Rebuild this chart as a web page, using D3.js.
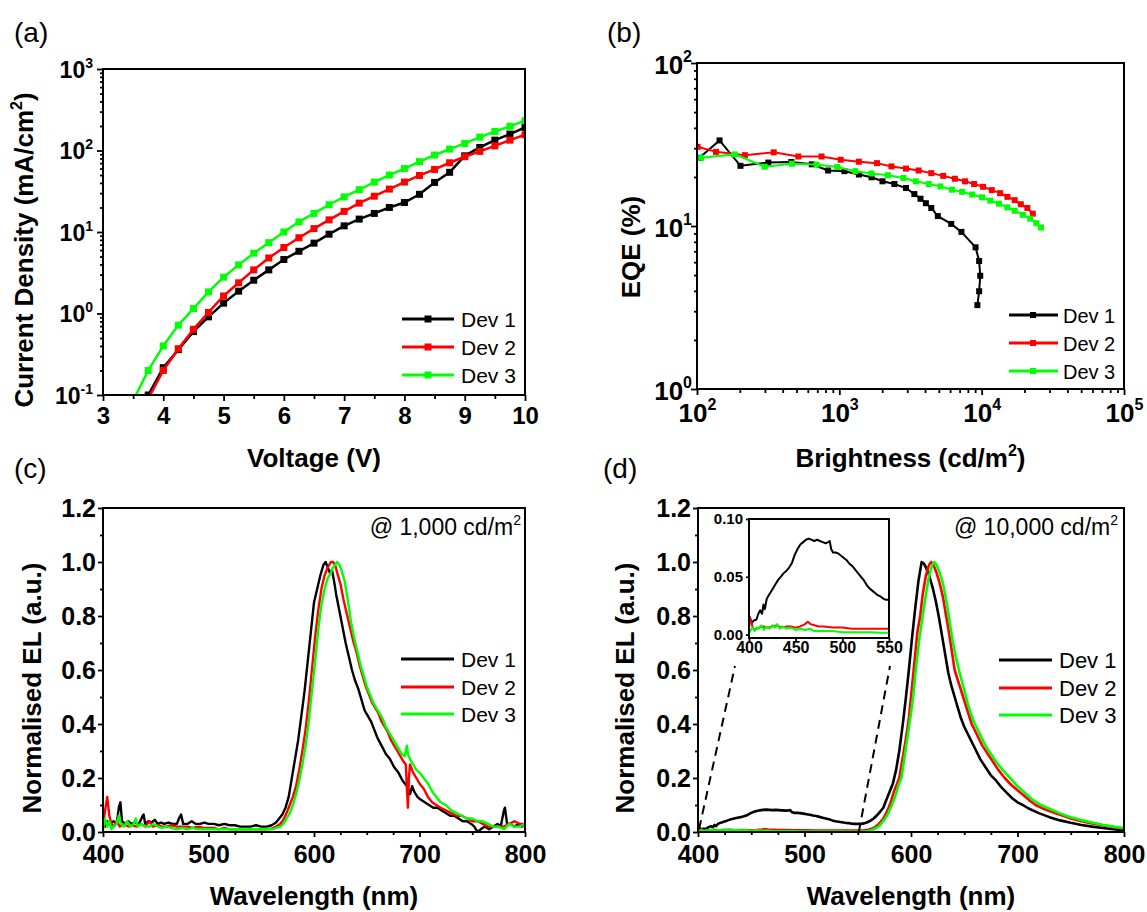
<!DOCTYPE html>
<html><head><meta charset="utf-8">
<script src="https://cdn.jsdelivr.net/npm/d3@7"></script>
<style>body{margin:0;background:#fff}svg{display:block}</style>
</head><body><script>
// ---------------- DATA ----------------
// (a) J-V
const voltage = [3.5,3.75,4,4.25,4.5,4.75,5,5.25,5.5,5.75,6,6.25,6.5,6.75,7,7.25,7.5,7.75,8,8.25,8.5,8.75,9,9.25,9.5,9.75,10];
const jDev1 = [0.05,0.1,0.216,0.36,0.6,0.91,1.34,1.88,2.56,3.43,4.6,5.8,7.3,9.4,11.9,14.4,16.9,20,23,29,40.6,54,86,109,134,159,192];
const jDev2 = [0.03,0.09,0.2,0.37,0.64,1.03,1.64,2.38,3.43,4.8,6.45,8.5,11.0,14.1,17.9,22.6,27.5,33.6,41,49.4,58.6,70.7,83.8,97.5,114,134,156];
const jDev3 = [0.085,0.2,0.4,0.72,1.15,1.84,2.79,3.95,5.5,7.4,10.0,13.3,16.9,21.6,27,33,41,50,60,73,88,104,122,146,171,198,232];
const voltTicks = [3,4,5,6,7,8,9,10];
const jTicks = [0.1,1,10,100,1000];

// (b) EQE - brightness
const brightDev1 = [104,144,202,317,460,640,834,1086,1372,1683,2010,2437,2940,3365,3717,4056,4428,4920,6110,7206,9057,9600,9772,9600,9330];
const eqeDev1 = [26.2,33.5,23.4,24.5,24.7,23.9,21.9,21.7,20.7,19.9,18.8,18.1,17.1,15.7,14.7,13.8,12.9,11.5,10.3,9.2,7.4,6.1,4.95,3.98,3.27];
const brightDev2 = [101,136,217,346,515,750,1023,1371,1840,2325,2940,3606,4428,5370,6486,7640,8850,10230,11780,13490,15170,17060,18840,20940,22860];
const eqeDev2 = [30.6,28.5,27.2,28.3,26.7,26.7,25.5,24.8,24.3,23.2,22.5,21.9,21.1,20.3,19.5,18.8,18.1,17.4,16.6,15.9,15.1,14.4,13.6,12.9,11.9];
const brightDev3 = [107,184,299,464,691,966,1295,1683,2193,2818,3443,4250,5130,6185,7290,8590,10060,11510,13240,15170,17060,19500,21930,24220,26120];
const eqeDev3 = [26.2,27.5,23.1,24.1,23.8,23.0,21.7,21.0,20.5,19.7,18.8,18.1,17.5,16.7,16.2,15.6,15.0,14.3,13.7,13.0,12.4,11.7,11.1,10.4,9.8];
const brightTicks = [100,1000,10000,100000];
const eqeTicks = [1,10,100];

// (c) EL spectra @ 1,000 cd/m2  [wavelength, normalised EL]
const elC1 = [[400,0.05],[402,0.02],[404,0.04],[407,0.03],[410,0.04],[413,0.03],[415,0.09],[416.5,0.11],[418,0.04],[421,0.03],[424,0.04],[427,0.03],[430,0.035],[434,0.03],[437,0.055],[438.5,0.065],[440,0.03],[443,0.04],[446,0.035],[449,0.045],[452,0.03],[455,0.035],[458,0.03],[462,0.035],[466,0.03],[470,0.03],[472,0.05],[474,0.065],[476,0.03],[480,0.03],[484,0.04],[488,0.03],[492,0.03],[496,0.035],[500,0.03],[505,0.03],[510,0.025],[515,0.03],[520,0.025],[525,0.025],[530,0.02],[535,0.02],[540,0.02],[545,0.025],[550,0.02],[555,0.02],[560,0.025],[564,0.035],[567,0.05],[570,0.065],[573,0.09],[576,0.13],[579,0.2],[582,0.27],[585,0.34],[588,0.43],[591,0.52],[594,0.63],[597,0.74],[600,0.85],[603,0.9],[606,0.95],[609,0.99],[611,1.0],[613,0.98],[615,0.96],[617,0.97],[619,0.93],[621,0.88],[624,0.82],[627,0.76],[630,0.7],[633,0.65],[636,0.6],[639,0.56],[642,0.53],[645,0.49],[648,0.45],[651,0.43],[654,0.41],[657,0.38],[660,0.35],[664,0.32],[668,0.29],[672,0.27],[676,0.24],[680,0.22],[684,0.19],[688,0.17],[691,0.14],[693,0.17],[695,0.15],[698,0.13],[701,0.12],[705,0.11],[709,0.1],[713,0.09],[717,0.09],[721,0.08],[725,0.07],[729,0.06],[733,0.06],[737,0.05],[741,0.04],[745,0.04],[749,0.03],[752,0.02],[755,0.0],[758,0.01],[762,0.02],[766,0.01],[770,0.02],[774,0.03],[777,0.02],[780,0.08],[781,0.09],[783,0.03],[786,0.03],[790,0.02],[794,0.03],[797,0.02],[800,0.03]];
const elC2 = [[400,0.02],[402,0.08],[404,0.13],[406,0.06],[408,0.03],[410,0.02],[413,0.04],[416,0.02],[420,0.03],[424,0.02],[428,0.025],[432,0.02],[436,0.03],[440,0.02],[444,0.04],[447,0.02],[452,0.025],[456,0.02],[460,0.02],[465,0.025],[470,0.02],[475,0.02],[480,0.02],[485,0.015],[490,0.02],[495,0.015],[500,0.015],[505,0.015],[510,0.01],[515,0.015],[520,0.01],[525,0.01],[530,0.01],[535,0.01],[540,0.01],[545,0.01],[550,0.01],[555,0.01],[560,0.012],[564,0.02],[568,0.03],[571,0.045],[574,0.07],[577,0.1],[580,0.13],[583,0.17],[586,0.23],[589,0.3],[592,0.38],[595,0.48],[598,0.6],[601,0.72],[604,0.82],[607,0.9],[610,0.95],[613,0.98],[616,1.0],[618,1.0],[620,0.99],[622,0.96],[625,0.92],[628,0.86],[631,0.81],[634,0.76],[637,0.71],[640,0.67],[643,0.62],[646,0.58],[649,0.54],[652,0.51],[655,0.48],[658,0.46],[661,0.44],[664,0.41],[667,0.39],[670,0.37],[673,0.34],[676,0.32],[679,0.3],[682,0.28],[685,0.26],[687,0.25],[688,0.17],[689,0.09],[690,0.2],[691,0.25],[694,0.22],[697,0.2],[700,0.18],[704,0.16],[708,0.13],[712,0.11],[716,0.1],[720,0.09],[725,0.08],[730,0.07],[735,0.06],[740,0.06],[745,0.05],[750,0.04],[755,0.04],[760,0.03],[765,0.02],[770,0.02],[775,0.02],[780,0.02],[785,0.03],[790,0.04],[795,0.03],[800,0.03]];
const elC3 = [[400,0.01],[402,0.05],[404,0.02],[406,0.04],[408,0.01],[410,0.02],[413,0.03],[415,0.06],[417,0.03],[420,0.02],[423,0.04],[426,0.02],[429,0.03],[431,0.05],[433,0.02],[436,0.03],[440,0.02],[444,0.02],[448,0.03],[452,0.02],[456,0.015],[460,0.02],[465,0.015],[470,0.01],[475,0.015],[480,0.01],[485,0.015],[490,0.01],[495,0.01],[500,0.01],[505,0.01],[510,0.01],[515,0.01],[520,0.01],[525,0.01],[530,0.01],[535,0.01],[540,0.01],[545,0.01],[550,0.01],[555,0.01],[560,0.01],[564,0.015],[568,0.02],[571,0.03],[574,0.05],[577,0.07],[580,0.1],[583,0.14],[586,0.19],[589,0.25],[592,0.32],[595,0.41],[598,0.52],[601,0.63],[604,0.75],[607,0.84],[610,0.9],[613,0.94],[616,0.96],[618,0.98],[620,0.99],[622,1.0],[624,0.99],[626,0.97],[629,0.93],[632,0.86],[635,0.78],[638,0.72],[641,0.67],[644,0.62],[647,0.58],[650,0.54],[653,0.51],[656,0.48],[659,0.46],[662,0.44],[665,0.42],[668,0.39],[671,0.37],[674,0.35],[677,0.33],[680,0.31],[683,0.29],[686,0.28],[687,0.3],[688,0.32],[689,0.29],[691,0.27],[694,0.25],[697,0.23],[700,0.22],[704,0.2],[708,0.18],[712,0.15],[716,0.13],[720,0.11],[725,0.1],[730,0.08],[735,0.07],[740,0.06],[745,0.05],[750,0.05],[755,0.04],[760,0.04],[765,0.03],[770,0.02],[775,0.02],[780,0.01],[785,0.03],[790,0.02],[795,0.02],[800,0.03]];

// (d) EL spectra @ 10,000 cd/m2
const elD1 = [[400,0.005],[401,0.015],[403,0.01],[405,0.012],[408,0.013],[410,0.018],[412,0.021],[414,0.018],[415.5,0.026],[417,0.022],[419,0.031],[422,0.035],[425,0.039],[428,0.043],[431,0.047],[434,0.05],[437,0.053],[440,0.055],[443,0.058],[446,0.062],[449,0.069],[452,0.074],[455,0.078],[458,0.08],[461,0.082],[464,0.083],[467,0.082],[470,0.081],[473,0.082],[476,0.081],[479,0.08],[482,0.079],[485,0.08],[486.5,0.081],[488,0.074],[490,0.071],[493,0.071],[496,0.07],[499,0.068],[502,0.066],[505,0.064],[508,0.061],[511,0.059],[514,0.056],[517,0.053],[520,0.05],[523,0.047],[526,0.043],[529,0.04],[532,0.038],[535,0.036],[538,0.034],[541,0.033],[544,0.031],[547,0.03],[550,0.03],[553,0.03],[556,0.032],[559,0.036],[562,0.042],[565,0.05],[568,0.062],[571,0.075],[574,0.09],[577,0.12],[580,0.15],[583,0.18],[586,0.23],[589,0.3],[592,0.39],[595,0.49],[598,0.6],[601,0.72],[604,0.83],[607,0.93],[610,1.0],[612,0.995],[614,0.98],[617,0.95],[620,0.91],[623,0.86],[626,0.8],[629,0.73],[632,0.66],[635,0.59],[638,0.54],[641,0.5],[644,0.46],[647,0.42],[650,0.39],[655,0.35],[660,0.31],[665,0.27],[670,0.24],[675,0.21],[680,0.19],[685,0.165],[690,0.145],[695,0.125],[700,0.11],[705,0.1],[710,0.088],[720,0.07],[730,0.055],[740,0.043],[750,0.034],[760,0.026],[770,0.02],[780,0.015],[790,0.01],[800,0.007]];
const elD2 = [[400,0.016],[402,0.012],[404,0.006],[406,0.004],[410,0.006],[415,0.007],[420,0.006],[425,0.007],[430,0.008],[435,0.006],[440,0.007],[445,0.007],[450,0.006],[455,0.007],[460,0.009],[463,0.011],[466,0.009],[470,0.008],[475,0.007],[480,0.007],[490,0.006],[500,0.006],[510,0.005],[520,0.005],[530,0.005],[540,0.005],[550,0.005],[555,0.005],[560,0.008],[565,0.015],[570,0.03],[574,0.05],[578,0.08],[581,0.11],[584,0.15],[587,0.18],[589,0.2],[592,0.27],[595,0.34],[598,0.42],[600,0.5],[603,0.62],[606,0.74],[608.6,0.8],[611,0.88],[614,0.95],[617,0.99],[619,1.0],[621,0.99],[624,0.96],[627,0.92],[630,0.87],[633,0.8],[636,0.73],[641,0.6],[645,0.55],[649,0.5],[653,0.45],[657,0.4],[662,0.36],[667,0.32],[672,0.29],[677,0.26],[682,0.23],[688,0.2],[694,0.175],[700,0.155],[706,0.135],[712,0.115],[717,0.1],[725,0.085],[735,0.07],[745,0.057],[750,0.05],[760,0.04],[770,0.032],[780,0.025],[790,0.018],[800,0.013]];
const elD3 = [[400,0.001],[402,0.004],[404,0.006],[406,0.003],[408,0.006],[410,0.005],[413,0.008],[416,0.004],[419,0.007],[422,0.005],[425,0.008],[428,0.006],[430,0.009],[433,0.005],[436,0.007],[440,0.005],[445,0.006],[450,0.004],[455,0.005],[460,0.004],[465,0.005],[470,0.003],[480,0.003],[490,0.003],[500,0.002],[510,0.002],[520,0.002],[530,0.002],[540,0.0015],[550,0.0015],[555,0.002],[560,0.004],[565,0.01],[570,0.022],[574,0.04],[578,0.065],[582,0.1],[585,0.13],[588,0.17],[591,0.2],[594,0.28],[597,0.36],[600,0.44],[602,0.5],[605,0.62],[608,0.72],[611,0.8],[614,0.88],[617,0.95],[620,0.99],[622,1.0],[624,0.99],[627,0.96],[630,0.92],[633,0.86],[635.5,0.8],[639,0.71],[642,0.65],[645,0.6],[649,0.54],[653,0.48],[656,0.44],[660,0.4],[665,0.36],[670,0.32],[675,0.29],[680,0.26],[686,0.23],[693,0.2],[700,0.17],[707,0.145],[714,0.12],[722,0.1],[730,0.086],[740,0.069],[750,0.055],[760,0.044],[770,0.035],[780,0.027],[790,0.02],[800,0.015]];
const wlTicks = [400,500,600,700,800];
const elTicks = [0,0.2,0.4,0.6,0.8,1.0,1.2];
const insetWlTicks = [400,450,500,550];
const insetElTicks = [0,0.05,0.10];

const devNames = ["Dev 1","Dev 2","Dev 3"];
const devColors = ["#000000","#ff0000","#00ff00"];

// ---------------- DRAWING ----------------
const FONT = '"Liberation Sans", Arial, Helvetica, sans-serif';
const svg = d3.select("body").append("svg").attr("width",1147).attr("height",912)
  .style("font-family",FONT);

function styleAxis(g, size, weight){
  g.select(".domain").remove();
  g.selectAll(".tick line").attr("stroke","#000").attr("stroke-width",1.8);
  g.selectAll(".tick text").attr("font-size",size).attr("font-weight",weight)
    .attr("font-family",FONT).attr("fill","#000");
}
function rich(sel, parts, size){
  let shift = 0;
  parts.forEach(p=>{
    const ts = sel.append("tspan").text(p.t);
    if(p.sup){ const s = -Math.round(size*0.42); ts.attr("font-size",Math.round(size*0.62)).attr("dy",s-shift); shift=s; }
    else { if(shift!==0) ts.attr("dy",-shift); shift=0; }
  });
}
function logLabels(g, size, supSize, x, y, anchor){
  g.selectAll(".tick").each(function(d){
    const t = d3.select(this); t.select("text").remove();
    const e = Math.round(Math.log10(d));
    const tx = t.append("text").attr("x",x).attr("y",y).attr("text-anchor",anchor)
      .attr("font-size",size).attr("font-weight","bold").attr("fill","#000").attr("font-family",FONT);
    tx.append("tspan").text("10");
    tx.append("tspan").text(String(e)).attr("font-size",supSize).attr("dy",-Math.round(size*0.45));
  });
}
function minorLog(domainMin, domainMax){
  const out=[];
  for(let d=domainMin; d<domainMax; d*=10){ for(let k=2;k<=9;k++) out.push(d*k); }
  return out;
}
let clipId=0;
function makeClip(g,w,h){
  const id="clip"+(clipId++);
  g.append("clipPath").attr("id",id).append("rect").attr("width",w).attr("height",h);
  return g.append("g").attr("clip-path",`url(#${id})`);
}
function frame(g,w,h,sw){
  g.append("rect").attr("width",w).attr("height",h).attr("fill","none").attr("stroke","#000").attr("stroke-width",sw||2);
}
function label(x,y,parts,size,weight,anchor,rot){
  const t = svg.append("text").attr("x",x).attr("y",y).attr("font-size",size)
    .attr("font-weight",weight).attr("text-anchor",anchor||"start").attr("fill","#000");
  if(rot) t.attr("transform",`rotate(${rot},${x},${y})`);
  rich(t, parts, size);
  return t;
}

// ===== Panel (a) =====
{
  const P={L:103,R:525,T:69,B:395}; const w=P.R-P.L, h=P.B-P.T;
  const g = svg.append("g").attr("transform",`translate(${P.L},${P.T})`);
  const x = d3.scaleLinear().domain([3,10]).range([0,w]);
  const y = d3.scaleLog().domain([0.1,1000]).range([h,0]);
  const gx = g.append("g").attr("transform",`translate(0,${h})`)
    .call(d3.axisBottom(x).tickValues(voltTicks).tickSize(6).tickPadding(6).tickFormat(d3.format("d")));
  styleAxis(gx,24,"bold");
  const gxm = g.append("g").attr("transform",`translate(0,${h})`)
    .call(d3.axisBottom(x).tickValues(voltTicks.slice(0,-1).map(v=>v+0.5)).tickSize(4).tickFormat(""));
  styleAxis(gxm,1,"normal");
  const gy = g.append("g").call(d3.axisLeft(y).tickValues(jTicks).tickSize(6));
  styleAxis(gy,23,"bold"); logLabels(gy,23,14,-10,8,"end");
  const gym = g.append("g").call(d3.axisLeft(y).tickValues(minorLog(0.1,1000)).tickSize(3).tickFormat(""));
  styleAxis(gym,1,"normal");
  const c = makeClip(g,w,h);
  const series=[jDev1,jDev2,jDev3];
  series.forEach((vals,i)=>{
    const pts = voltage.map((v,k)=>[v,vals[k]]);
    c.append("path").datum(pts).attr("fill","none").attr("stroke",devColors[i]).attr("stroke-width",2.5)
      .attr("d",d3.line().x(d=>x(d[0])).y(d=>y(d[1])));
    c.selectAll(null).data(pts).enter().append("rect")
      .attr("x",d=>x(d[0])-3.5).attr("y",d=>y(d[1])-3.5).attr("width",7).attr("height",7).attr("fill",devColors[i]);
  });
  frame(g,w,h);
  const rows=[319,347,375];
  devNames.forEach((n,i)=>{
    svg.append("line").attr("x1",402).attr("x2",454).attr("y1",rows[i]).attr("y2",rows[i]).attr("stroke",devColors[i]).attr("stroke-width",3);
    svg.append("rect").attr("x",428-3.5).attr("y",rows[i]-3.5).attr("width",7).attr("height",7).attr("fill",devColors[i]);
    svg.append("text").attr("x",461).attr("y",rows[i]+7.5).attr("font-size",21).attr("fill","#000").text(n);
  });
  label(33,250,[{t:"Current Density (mA/cm"},{t:"2",sup:true},{t:")"}],26,"bold","middle",-90);
  label((P.L+P.R)/2,467,[{t:"Voltage (V)"}],26,"bold","middle");
  label(14,42,[{t:"(a)"}],28,"normal","start");
}

// ===== Panel (b) =====
{
  const P={L:697,R:1124,T:63,B:389}; const w=P.R-P.L, h=P.B-P.T;
  const g = svg.append("g").attr("transform",`translate(${P.L},${P.T})`);
  const x = d3.scaleLog().domain([100,100000]).range([0,w]);
  const y = d3.scaleLog().domain([1,100]).range([h,0]);
  const gx = g.append("g").attr("transform",`translate(0,${h})`)
    .call(d3.axisBottom(x).tickValues(brightTicks).tickSize(6));
  styleAxis(gx,26,"bold"); logLabels(gx,26,16,0,33,"middle");
  const gxm = g.append("g").attr("transform",`translate(0,${h})`)
    .call(d3.axisBottom(x).tickValues(minorLog(100,100000)).tickSize(4).tickFormat(""));
  styleAxis(gxm,1,"normal");
  const gy = g.append("g").call(d3.axisLeft(y).tickValues(eqeTicks).tickSize(6));
  styleAxis(gy,26,"bold"); logLabels(gy,26,16,-5,10,"end");
  const gym = g.append("g").call(d3.axisLeft(y).tickValues(minorLog(1,100)).tickSize(3).tickFormat(""));
  styleAxis(gym,1,"normal");
  const c = makeClip(g,w,h);
  const bs=[brightDev1,brightDev2,brightDev3], es=[eqeDev1,eqeDev2,eqeDev3];
  bs.forEach((b,i)=>{
    const pts = b.map((v,k)=>[v,es[i][k]]);
    c.append("path").datum(pts).attr("fill","none").attr("stroke",devColors[i]).attr("stroke-width",2)
      .attr("d",d3.line().x(d=>x(d[0])).y(d=>y(d[1])));
    c.selectAll(null).data(pts).enter().append("rect")
      .attr("x",d=>x(d[0])-3).attr("y",d=>y(d[1])-3).attr("width",6).attr("height",6).attr("fill",devColors[i]);
  });
  frame(g,w,h);
  const rows=[315,343,371];
  devNames.forEach((n,i)=>{
    svg.append("line").attr("x1",1009).attr("x2",1058).attr("y1",rows[i]).attr("y2",rows[i]).attr("stroke",devColors[i]).attr("stroke-width",3);
    svg.append("rect").attr("x",1033-3).attr("y",rows[i]-3).attr("width",6).attr("height",6).attr("fill",devColors[i]);
    svg.append("text").attr("x",1063).attr("y",rows[i]+7.5).attr("font-size",20).attr("fill","#000").text(n);
  });
  label(640,247,[{t:"EQE (%)"}],26,"bold","middle",-90);
  label((P.L+P.R)/2,467,[{t:"Brightness (cd/m"},{t:"2",sup:true},{t:")"}],26,"bold","middle");
  label(607,42,[{t:"(b)"}],28,"normal","start");
}

// spectra panel helper
function spectraPanel(P, data, lw, legendX, rows, legendSize, annoX, annoParts, titleX, panelLabel, panelLabelX){
  const w=P.R-P.L, h=P.B-P.T;
  const g = svg.append("g").attr("transform",`translate(${P.L},${P.T})`);
  const x = d3.scaleLinear().domain([400,800]).range([0,w]);
  const y = d3.scaleLinear().domain([0,1.2]).range([h,0]);
  const gx = g.append("g").attr("transform",`translate(0,${h})`)
    .call(d3.axisBottom(x).tickValues(wlTicks).tickSize(5).tickPadding(8).tickFormat(d3.format("d")));
  styleAxis(gx,25,"bold");
  const minX=[]; for(let v=425; v<800; v+=25) if(v%100!==0) minX.push(v);
  const gxm = g.append("g").attr("transform",`translate(0,${h})`)
    .call(d3.axisBottom(x).tickValues(minX).tickSize(3).tickFormat(""));
  styleAxis(gxm,1,"normal");
  const gy = g.append("g").call(d3.axisLeft(y).tickValues(elTicks).tickSize(5).tickPadding(2).tickFormat(d3.format(".1f")));
  styleAxis(gy,25,"bold");
  const gym = g.append("g").call(d3.axisLeft(y).tickValues([0.1,0.3,0.5,0.7,0.9,1.1]).tickSize(3).tickFormat(""));
  styleAxis(gym,1,"normal");
  const c = makeClip(g,w,h);
  data.forEach((pts,i)=>{
    c.append("path").datum(pts).attr("fill","none").attr("stroke",devColors[i]).attr("stroke-width",lw)
      .attr("stroke-linejoin","round").attr("d",d3.line().x(d=>x(d[0])).y(d=>y(d[1])));
  });
  frame(g,w,h);
  devNames.forEach((n,i)=>{
    svg.append("line").attr("x1",legendX).attr("x2",legendX+53).attr("y1",rows[i]).attr("y2",rows[i]).attr("stroke",devColors[i]).attr("stroke-width",3);
    svg.append("text").attr("x",legendX+60).attr("y",rows[i]+7.5).attr("font-size",legendSize).attr("fill","#000").text(n);
  });
  label(annoX, P.T+27, annoParts, 23, "normal", "end");
  label(titleX, 688, [{t:"Normalised EL (a.u.)"}], 26, "bold", "middle", -90);
  label((P.L+P.R)/2, 905, [{t:"Wavelength (nm)"}], 26, "bold", "middle");
  label(panelLabelX, 478, [{t:panelLabel}], 28, "normal", "start");
  return {g,x,y,w,h};
}

// ===== Panel (c) =====
spectraPanel({L:103,R:525,T:508,B:832},[elC1,elC2,elC3],2.4,401,[659,687,714],21,521,
  [{t:"@ 1,000 cd/m"},{t:"2",sup:true}],41,"(c)",14);

// ===== Panel (d) =====
{
  const P={L:698,R:1124,T:508,B:832};
  const m = spectraPanel(P,[elD1,elD2,elD3],2.6,999,[660,688,715],22,1118,
    [{t:"@ 10,000 cd/m"},{t:"2",sup:true}],634,"(d)",603);
  // inset
  const I={L:749,R:889,T:519,B:638}; const w=I.R-I.L, h=I.B-I.T;
  const g = svg.append("g").attr("transform",`translate(${I.L},${I.T})`);
  g.append("rect").attr("width",w).attr("height",h).attr("fill","#fff");
  const x = d3.scaleLinear().domain([400,550]).range([0,w]);
  const y = d3.scaleLinear().domain([-0.003,0.10]).range([h,0]);
  const gx = g.append("g").attr("transform",`translate(0,${h})`)
    .call(d3.axisBottom(x).tickValues(insetWlTicks).tickSize(3).tickPadding(1).tickFormat(d3.format("d")));
  styleAxis(gx,16,"bold");
  const gy = g.append("g").call(d3.axisLeft(y).tickValues(insetElTicks).tickSize(3).tickPadding(3).tickFormat(d3.format(".2f")));
  styleAxis(gy,15,"bold");
  const c = makeClip(g,w,h);
  [elD1,elD2,elD3].forEach((pts,i)=>{
    c.append("path").datum(pts.filter(d=>d[0]<=552)).attr("fill","none").attr("stroke",devColors[i]).attr("stroke-width",2)
      .attr("stroke-linejoin","round").attr("d",d3.line().x(d=>x(d[0])).y(d=>y(d[1])));
  });
  frame(g,w,h);
  // dashed guide lines from main axis region up to the inset
  const dash = [[[m.x(401)+P.L, m.y(0)+P.T-3],[I.L-14, I.B+28]],
                [[m.x(551)+P.L, m.y(0)+P.T],[I.R+1, I.B+28]]];
  dash.forEach(s=>{
    svg.append("line").attr("x1",s[0][0]).attr("y1",s[0][1]).attr("x2",s[1][0]).attr("y2",s[1][1])
      .attr("stroke","#000").attr("stroke-width",2).attr("stroke-dasharray","9,6");
  });
}
</script></body></html>
